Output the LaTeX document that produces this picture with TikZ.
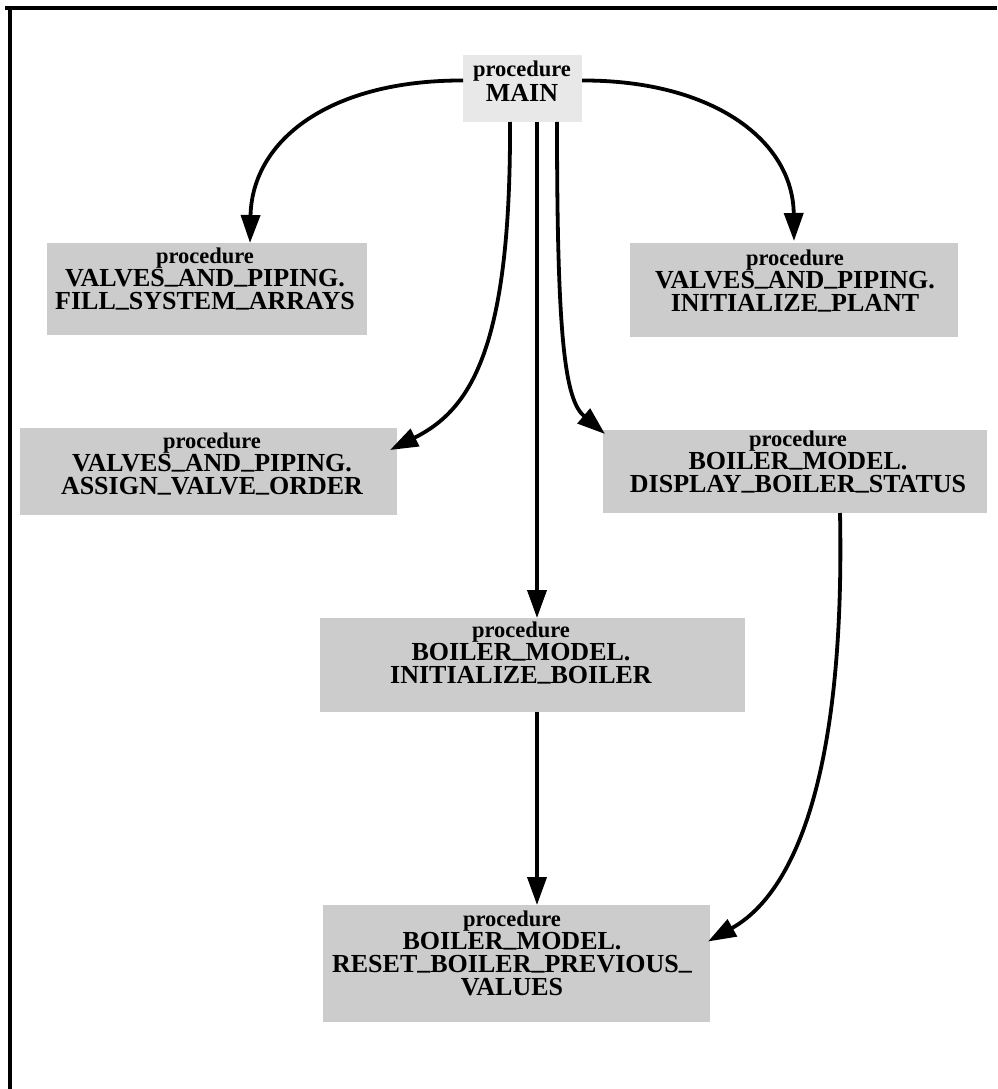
\documentclass[tikz,border=0pt]{standalone}
\usepackage{fontspec}
\setmainfont{Liberation Serif}
\usetikzlibrary{arrows.meta,calc}
\definecolor{boxgray}{gray}{0.80}
\definecolor{maingray}{gray}{0.91}
\newcommand\procword{{\fontsize{22.5}{23}\selectfont procedure}}
\newcommand\us{\raisebox{3pt}{\_}}
\begin{document}
\begin{tikzpicture}[x=1pt,y=-1pt,
  shadebox/.style={fill=boxgray,draw=none,inner sep=0pt,outer sep=0pt},
  txt/.style={font={\fontsize{26}{23}\selectfont\bfseries},align=center,inner sep=0pt,text=black},
  conn/.style={line width=3.8pt,-{Triangle[length=28pt,width=19pt]}},
  frame/.style={line width=3.5pt}]
\useasboundingbox (0,0) rectangle (997,1089);
% frame (top and left only)
\draw[frame] (5,8) -- (997,8);
\draw[frame] (10,6) -- (10,1089);
% boxes
\node[shadebox,fill=maingray,minimum width=119pt,minimum height=67pt] (main) at (522.5,88.5) {};
\node[shadebox,minimum width=320pt,minimum height=92pt] (fill) at (207,289) {};
\node[shadebox,minimum width=328pt,minimum height=94pt] (plant) at (794,290) {};
\node[shadebox,minimum width=377pt,minimum height=87pt] (assign) at (208.5,471.5) {};
\node[shadebox,minimum width=384pt,minimum height=83pt] (display) at (795,471.5) {};
\node[shadebox,minimum width=425pt,minimum height=94pt] (initb) at (532.5,665) {};
\node[shadebox,minimum width=387pt,minimum height=117pt] (reset) at (516.5,963.5) {};
% texts
\node[txt] (main-t) at (522,81.5) {\procword\\[2pt]MAIN};
\node[txt] (fill-t) at (205,279) {\procword\\VALVES\us AND\us PIPING.\\FILL\us SYSTEM\us ARRAYS};
\node[txt] (plant-t) at (795,281) {\procword\\VALVES\us AND\us PIPING.\\INITIALIZE\us PLANT};
\node[txt] (assign-t) at (212,464) {\procword\\VALVES\us AND\us PIPING.\\ASSIGN\us VALVE\us ORDER};
\node[txt] (display-t) at (798,462) {\procword\\BOILER\us MODEL.\\DISPLAY\us BOILER\us STATUS};
\node[txt] (initb-t) at (521,653) {\procword\\BOILER\us MODEL.\\INITIALIZE\us BOILER};
\node[txt] (reset-t) at (512,953) {\procword\\BOILER\us MODEL.\\RESET\us BOILER\us PREVIOUS\us\\VALUES};
% connectors
\draw[conn] ($(main.west)+(0,-8)$) .. controls (330,80) and (252,140) .. ($(fill.north)+(43,0)$);
\draw[conn] ($(main.east)+(0,-8)$) .. controls (712,80) and (793,140) .. ($(plant.north)+(0,-2)$);
\draw[conn] ($(main.south)+(-12.5,0)$) .. controls (511,350) and (470,410) .. ($(assign.north east)+(-7,22)$);
\draw[conn] ($(main.south)+(14.5,0)$) -- ($(initb.north)+(4.5,0)$);
\draw[conn] ($(main.south)+(34.5,0)$) .. controls (557,340) and (565,400) .. ($(display.north west)+(2,4)$);
\draw[conn] ($(initb.south)+(4.5,0)$) -- ($(reset.north)+(20.5,0)$);
\draw[conn] ($(display.south)+(45,0)$) .. controls (845,760) and (800,890) .. ($(reset.east)+(-2,-22)$);
\end{tikzpicture}
\end{document}
